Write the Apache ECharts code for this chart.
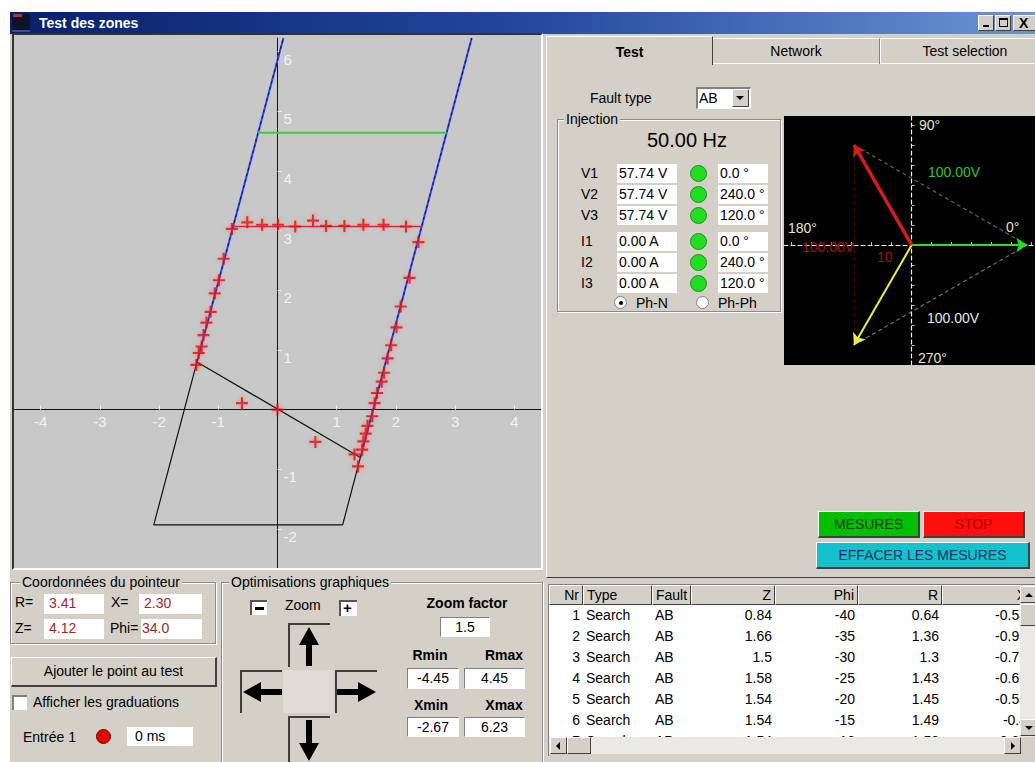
<!DOCTYPE html>
<html>
<head>
<meta charset="utf-8">
<title>Test des zones</title>
<script src="https://cdn.jsdelivr.net/npm/echarts@6.0.0/dist/echarts.min.js"></script>
<style>
html,body{margin:0;padding:0;width:1035px;height:762px;overflow:hidden;background:#fff;font-family:'Liberation Sans',Arial,sans-serif;font-size:14px;color:#000}
.a{position:absolute;box-sizing:border-box}
.t{position:absolute;white-space:nowrap;line-height:16px;font-size:14px}
.sunk{border-top:1px solid #808080;border-left:1px solid #808080;border-right:1px solid #fff;border-bottom:1px solid #fff}
.rais{border-top:1px solid #fff;border-left:1px solid #fff;border-right:1px solid #404040;border-bottom:1px solid #404040}
.grp{position:absolute;box-sizing:border-box;border:1px solid #8a8a8a;box-shadow:inset 1px 1px 0 #fff,1px 1px 0 #fff}
.gl{position:absolute;white-space:nowrap;background:#d4d0c8;padding:0 2px;line-height:16px}
.fld{position:absolute;box-sizing:border-box;background:#fff;white-space:nowrap;overflow:hidden;line-height:18px}
.cell{position:absolute;box-sizing:border-box;white-space:nowrap;overflow:hidden;padding:0 3px}
.pad{position:absolute;box-sizing:border-box;border-top:2px solid #404040;border-left:2px solid #404040;background:#d4d0c8}
</style>
</head>
<body>
<!-- window -->
<div class="a" style="left:10px;top:12px;width:1025px;height:750px;background:#d4d0c8"></div>
<div class="a" style="left:10px;top:12px;width:1025px;height:22px;background:linear-gradient(to right,#08206a 0%,#23489c 50%,#6a94d6 100%)"></div>
<div class="a" style="left:12px;top:14px;width:18px;height:18px;background:#0c1428;border-bottom:2px solid #3050a0"></div>
<div class="a" style="left:13px;top:14px;width:9px;height:3px;background:#b03040"></div>
<div class="t" style="left:39px;top:15px;color:#fff;font-weight:bold">Test des zones</div>
<div class="a rais" style="left:978px;top:15px;width:16px;height:16px;background:#d4d0c8"><div class="a" style="left:4px;top:9px;width:6px;height:2px;background:#000"></div></div>
<div class="a rais" style="left:995px;top:15px;width:16px;height:16px;background:#d4d0c8"><div class="a" style="left:3px;top:2px;width:9px;height:9px;border:1px solid #000;border-top-width:2px"></div></div>
<div class="a rais" style="left:1013px;top:15px;width:24px;height:16px;background:#d4d0c8"><div class="t" style="left:5px;top:-1px;font-weight:bold">X</div></div>

<!-- impedance plane -->
<div class="a" style="left:12px;top:33px;width:531px;height:537px;border-style:solid;border-width:2px;border-color:#333 #fff #fff #333"></div>
<div id="plot" class="a" style="left:14px;top:35px;width:527px;height:533px;background:#c8c8c8"></div>

<!-- tab control -->
<div class="a" style="left:546px;top:63px;width:489px;height:515px;border-left:1px solid #fff;border-top:1px solid #fff;border-bottom:1px solid #404040"></div>
<div class="a" style="left:712px;top:38px;width:168px;height:26px;border-top:1px solid #fff;border-left:1px solid #fff;border-right:1px solid #808080"></div>
<div class="t" style="left:712px;top:43px;width:168px;text-align:center">Network</div>
<div class="a" style="left:880px;top:38px;width:160px;height:26px;border-top:1px solid #fff;border-left:1px solid #fff"></div>
<div class="t" style="left:880px;top:43px;width:170px;text-align:center">Test selection</div>
<div class="a" style="left:546px;top:36px;width:167px;height:29px;background:#d4d0c8;border-top:1px solid #fff;border-left:1px solid #fff;border-right:1px solid #404040"></div>
<div class="t" style="left:547px;top:44px;width:165px;text-align:center;font-weight:bold">Test</div>

<div class="t" style="left:590px;top:90px">Fault type</div>
<div class="a" style="left:696px;top:87px;width:55px;height:22px;background:#fff;border-top:2px solid #808080;border-left:2px solid #808080;border-right:1px solid #fff;border-bottom:1px solid #fff"></div>
<div class="t" style="left:699px;top:90px">AB</div>
<div class="a rais" style="left:732px;top:89px;width:17px;height:18px;background:#d4d0c8"><div class="a" style="left:3px;top:6px;width:0;height:0;border-left:4px solid transparent;border-right:4px solid transparent;border-top:4px solid #000"></div></div>

<div class="grp" style="left:557px;top:119px;width:224px;height:193px"></div>
<div class="gl" style="left:564px;top:111px">Injection</div>
<div class="t" id="freq" style="left:617px;top:129px;width:140px;text-align:center;font-size:20px;line-height:22px;font-weight:500"></div>
<div id="injection"></div>
<div class="a" style="left:614px;top:296px;width:13px;height:13px;border-radius:50%;background:#fff;border:1px solid #808080"><div class="a" style="left:4px;top:4px;width:4px;height:4px;border-radius:50%;background:#000"></div></div>
<div class="t" style="left:636px;top:295px">Ph-N</div>
<div class="a" style="left:696px;top:296px;width:13px;height:13px;border-radius:50%;background:#fff;border:1px solid #808080"></div>
<div class="t" style="left:718px;top:295px">Ph-Ph</div>

<div id="phasor" class="a" style="left:784px;top:116px;width:251px;height:249px;background:#000"></div>

<div class="a rais" style="left:818px;top:511px;width:102px;height:27px;background:#00c000;border-right-width:2px;border-bottom-width:2px;color:#0a3a0a;text-align:center;line-height:24px">MESURES</div>
<div class="a rais" style="left:923px;top:511px;width:102px;height:27px;background:#ff0e0e;border-right-width:2px;border-bottom-width:2px;color:#a80000;text-align:center;line-height:24px">STOP</div>
<div class="a rais" style="left:816px;top:542px;width:214px;height:27px;background:#14c2cf;border-right-width:2px;border-bottom-width:2px;color:#16305a;text-align:center;line-height:24px">EFFACER LES MESURES</div>

<!-- measurement table -->
<div class="a" style="left:548px;top:584px;width:487px;height:172px;border-top:1px solid #808080;border-left:1px solid #808080;background:#fff;overflow:hidden" id="table"></div>

<!-- pointer coordinates -->
<div class="grp" style="left:10px;top:582px;width:206px;height:62px"></div>
<div class="gl" style="left:20px;top:574px">Coordonnées du pointeur</div>
<div class="t" style="left:15px;top:594px">R=</div>
<div class="fld" style="left:44px;top:594px;width:60px;height:20px;padding-left:5px;color:#9a2a2a" id="ptR"></div>
<div class="t" style="left:111px;top:594px">X=</div>
<div class="fld" style="left:139px;top:594px;width:63px;height:20px;padding-left:5px;color:#9a2a2a" id="ptX"></div>
<div class="t" style="left:15px;top:620px">Z=</div>
<div class="fld" style="left:44px;top:619px;width:60px;height:20px;padding-left:5px;color:#9a2a2a" id="ptZ"></div>
<div class="t" style="left:110px;top:620px">Phi=</div>
<div class="fld" style="left:141px;top:619px;width:61px;height:20px;padding-left:1px;color:#9a2a2a" id="ptPhi"></div>

<div class="a rais" style="left:11px;top:657px;width:206px;height:30px;border-right-width:2px;border-bottom-width:2px;text-align:center;line-height:27px">Ajouter le point au test</div>
<div class="a" style="left:12px;top:695px;width:15px;height:15px;background:#fff;border-top:2px solid #808080;border-left:2px solid #808080"></div>
<div class="t" style="left:33px;top:694px">Afficher les graduations</div>
<div class="t" style="left:23px;top:729px">Entrée 1</div>
<div class="a" style="left:96px;top:729px;width:15px;height:15px;border-radius:50%;background:#e80000;border:1px solid #700"></div>
<div class="fld" style="left:127px;top:727px;width:66px;height:19px;padding-left:8px">0 ms</div>

<!-- view controls -->
<div class="grp" style="left:221px;top:582px;width:322px;height:200px"></div>
<div class="gl" style="left:229px;top:574px">Optimisations graphiques</div>
<div class="a" style="left:250px;top:600px;width:17px;height:15px;background:#fff;border-top:2px solid #555;border-left:2px solid #555"><div class="a" style="left:3px;top:5px;width:9px;height:3px;background:#000"></div></div>
<div class="t" style="left:285px;top:597px">Zoom</div>
<div class="a" style="left:339px;top:600px;width:18px;height:16px;background:#fff;border-top:2px solid #555;border-left:2px solid #555"><div class="t" style="left:2px;top:-2px;font-weight:bold;font-size:15px">+</div></div>

<div class="pad" style="left:288px;top:623px;width:42px;height:44px"><svg width="40" height="42" style="position:absolute;left:0;top:0"><polygon points="19,2 29,20 22,20 22,41 16,41 16,20 9,20" fill="#000"/></svg></div>
<div class="pad" style="left:240px;top:670px;width:42px;height:43px"><svg width="40" height="41" style="position:absolute;left:0;top:0"><polygon points="1,20 19,10 19,17 40,17 40,23 19,23 19,30" fill="#000"/></svg></div>
<div class="a" style="left:283px;top:670px;width:51px;height:43px;background:#dedbd5"></div>
<div class="pad" style="left:335px;top:670px;width:42px;height:43px"><svg width="40" height="41" style="position:absolute;left:0;top:0"><polygon points="39,20 21,10 21,17 0,17 0,23 21,23 21,30" fill="#000"/></svg></div>
<div class="pad" style="left:288px;top:716px;width:42px;height:48px"><svg width="40" height="46" style="position:absolute;left:0;top:0"><polygon points="19,43 29,25 22,25 22,2 16,2 16,25 9,25" fill="#000"/></svg></div>

<div class="t" style="left:412px;top:595px;width:110px;text-align:center;font-weight:bold">Zoom factor</div>
<div class="a sunk" style="left:440px;top:617px;width:50px;height:20px;background:#fff;text-align:center;line-height:18px" id="zoomFactor"></div>
<div class="t" style="left:404px;top:647px;width:52px;text-align:center;font-weight:bold">Rmin</div>
<div class="t" style="left:478px;top:647px;width:52px;text-align:center;font-weight:bold">Rmax</div>
<div class="a sunk" style="left:407px;top:668px;width:52px;height:21px;background:#fff;text-align:center;line-height:19px" id="rMinBox"></div>
<div class="a sunk" style="left:464px;top:668px;width:61px;height:21px;background:#fff;text-align:center;line-height:19px" id="rMaxBox"></div>
<div class="t" style="left:405px;top:697px;width:52px;text-align:center;font-weight:bold">Xmin</div>
<div class="t" style="left:478px;top:697px;width:52px;text-align:center;font-weight:bold">Xmax</div>
<div class="a sunk" style="left:407px;top:717px;width:52px;height:20px;background:#fff;text-align:center;line-height:18px" id="xMinBox"></div>
<div class="a sunk" style="left:464px;top:717px;width:61px;height:20px;background:#fff;text-align:center;line-height:18px" id="xMaxBox"></div>

<script>
// ---- impedance plane (R horizontal, X vertical, ohms) ----
const rRange = [-4.45, 4.45];
const xRange = [-2.67, 6.23];
const zoomFactor = 1.5;
const rTickValues = [-4, -3, -2, -1, 1, 2, 3, 4];
const xTickValues = [-2, -1, 1, 2, 3, 4, 5, 6];

// zone characteristic
const zoneOutline = [[-1.36, 0.80], [-2.09, -1.93], [1.10, -1.93], [1.40, -0.80], [-1.36, 0.80]];
const leftReachEdge = [[-1.36, 0.80], [0.10, 6.23]];
const rightReachEdge = [[1.40, -0.80], [3.28, 6.23]];
const zone1Reach = [[-0.75, 3.07], [2.44, 3.07]];
const zone2Reach = [[-0.33, 4.64], [2.86, 4.64]];

// measurement table (first rows)
const tableNr = [1, 2, 3, 4, 5, 6, 7];
const tableType = ['Search', 'Search', 'Search', 'Search', 'Search', 'Search', 'Search'];
const tableFault = ['AB', 'AB', 'AB', 'AB', 'AB', 'AB', 'AB'];
const tableZ = [0.84, 1.66, 1.5, 1.58, 1.54, 1.54, 1.54];
const tablePhi = [-40, -35, -30, -25, -20, -15, -10];
const tableR = [0.64, 1.36, 1.3, 1.43, 1.45, 1.49, 1.52];
const tableX = [-0.54, -0.95, -0.75, -0.67, -0.53, -0.4, -0.27];

// remaining search results
const moreR = [1.60, 1.64, 1.68, 1.76, 1.80, 1.86, 1.92, 2.01, 2.08, 2.23, 2.38,
               2.17, 1.79, 1.45, 1.13, 0.82, 0.60, 0.30, 0.01, -0.26, -0.51, -0.77,
               -0.91, -0.99, -1.06, -1.13, -1.20, -1.25, -1.28, -1.33, -1.37,
               -0.60, 0.00];
const moreX = [-0.11, 0.11, 0.28, 0.47, 0.62, 0.86, 1.08, 1.38, 1.73, 2.21, 2.81,
               3.07, 3.10, 3.10, 3.08, 3.08, 3.17, 3.07, 3.10, 3.10, 3.14, 3.03,
               2.53, 2.17, 1.95, 1.64, 1.46, 1.25, 1.06, 0.95, 0.75,
               0.11, 0.00];
const searchR = tableR.concat(moreR);
const searchX = tableX.concat(moreX);

// pointer read-out
const pointer = { R: '3.41', X: '2.30', Z: '4.12', Phi: '34.0' };

// ---- injection ----
const frequency = 50;
const phaseLabels = ['V1', 'V2', 'V3'];
const voltageMag = [57.74, 57.74, 57.74];
const voltageAngle = [0, 240, 120];
const currentLabels = ['I1', 'I2', 'I3'];
const currentMag = [0, 0, 0];
const currentAngle = [0, 240, 120];
const phasorColors = ['#22e022', '#eded4a', '#d41c1c'];
const angleMarks = ['90°', '180°', '0°', '270°'];
const lineVoltageText = ['100.00V', '100.00V', '100.00V'];
const currentScaleText = '10';

const FONT = "'Liberation Sans', Arial, sans-serif";

// fill read-outs
document.getElementById('ptR').textContent = pointer.R;
document.getElementById('ptX').textContent = pointer.X;
document.getElementById('ptZ').textContent = pointer.Z;
document.getElementById('ptPhi').textContent = pointer.Phi;
document.getElementById('zoomFactor').textContent = zoomFactor.toFixed(1);
document.getElementById('rMinBox').textContent = rRange[0].toFixed(2);
document.getElementById('rMaxBox').textContent = rRange[1].toFixed(2);
document.getElementById('xMinBox').textContent = xRange[0].toFixed(2);
document.getElementById('xMaxBox').textContent = xRange[1].toFixed(2);
document.getElementById('freq').textContent = frequency.toFixed(2) + ' Hz';

// injection rows
(function () {
  const rowsY = [173, 194, 215, 241, 262, 283];
  const labels = phaseLabels.concat(currentLabels);
  const mags = voltageMag.map(v => v.toFixed(2) + ' V').concat(currentMag.map(v => v.toFixed(2) + ' A'));
  const angs = voltageAngle.concat(currentAngle).map(v => v.toFixed(1) + ' °');
  let html = '';
  labels.forEach((lab, i) => {
    const y = rowsY[i];
    html += `<div class="t" style="left:581px;top:${y - 8}px">${lab}</div>`;
    html += `<div class="fld" style="left:617px;top:${y - 9}px;width:60px;height:19px;padding-left:2px">${mags[i]}</div>`;
    html += `<div class="a" style="left:690px;top:${y - 8}px;width:17px;height:17px;border-radius:50%;background:#1ee01e;border:1px solid #2a8a2a"></div>`;
    html += `<div class="fld" style="left:718px;top:${y - 9}px;width:50px;height:19px;padding-left:2px">${angs[i]}</div>`;
  });
  document.getElementById('injection').innerHTML = html;
})();

// measurement table
(function () {
  const cols = [
    { title: 'Nr', x: 0, w: 34, align: 'right', v: tableNr },
    { title: 'Type', x: 34, w: 69, align: 'left', v: tableType },
    { title: 'Fault', x: 103, w: 39, align: 'left', v: tableFault },
    { title: 'Z', x: 142, w: 84, align: 'right', v: tableZ },
    { title: 'Phi', x: 226, w: 83, align: 'right', v: tablePhi },
    { title: 'R', x: 309, w: 84, align: 'right', v: tableR },
    { title: 'X', x: 393, w: 88, align: 'right', v: tableX }
  ];
  let html = '';
  cols.forEach(c => {
    html += `<div class="cell rais" style="left:${c.x}px;top:0;width:${c.w}px;height:20px;background:#d4d0c8;text-align:${c.align};line-height:18px">${c.title}</div>`;
    c.v.forEach((val, i) => {
      html += `<div class="cell" style="left:${c.x}px;top:${20 + i * 21}px;width:${c.w}px;height:21px;text-align:${c.align};line-height:21px">${val}</div>`;
    });
  });
  // vertical scrollbar
  html += `<div class="a" style="left:471px;top:0;width:16px;height:152px;background:#ebe9e4"></div>`;
  html += `<div class="a rais" style="left:471px;top:1px;width:16px;height:17px;background:#d4d0c8"><div class="a" style="left:4px;top:6px;border-left:4px solid transparent;border-right:4px solid transparent;border-bottom:4px solid #000"></div></div>`;
  html += `<div class="a rais" style="left:471px;top:19px;width:16px;height:22px;background:#d4d0c8"></div>`;
  html += `<div class="a rais" style="left:471px;top:134px;width:16px;height:17px;background:#d4d0c8"><div class="a" style="left:4px;top:6px;border-left:4px solid transparent;border-right:4px solid transparent;border-top:4px solid #000"></div></div>`;
  // horizontal scrollbar
  html += `<div class="a" style="left:0;top:152px;width:487px;height:20px;background:#d4d0c8"></div>`;
  html += `<div class="a" style="left:0;top:152px;width:471px;height:17px;background:#ebe9e4"></div>`;
  html += `<div class="a rais" style="left:1px;top:152px;width:17px;height:17px;background:#d4d0c8"><div class="a" style="left:5px;top:4px;border-top:4px solid transparent;border-bottom:4px solid transparent;border-right:4px solid #000"></div></div>`;
  html += `<div class="a rais" style="left:18px;top:152px;width:24px;height:17px;background:#d4d0c8"></div>`;
  html += `<div class="a rais" style="left:455px;top:152px;width:17px;height:17px;background:#d4d0c8"><div class="a" style="left:6px;top:4px;border-top:4px solid transparent;border-bottom:4px solid transparent;border-left:4px solid #000"></div></div>`;
  document.getElementById('table').innerHTML = html;
})();

// ---- impedance chart ----
const plotEl = document.getElementById('plot');
const plot = echarts.init(plotEl, null, { renderer: 'svg' });
const gridBox = { left: 0, right: 0, top: 3, bottom: -1 };
const gridW = plotEl.clientWidth - gridBox.left - gridBox.right;
const gridH = plotEl.clientHeight - gridBox.top - gridBox.bottom;
// place both axes through the origin
const xAxisOffset = -(0 - xRange[0]) / (xRange[1] - xRange[0]) * gridH;
const yAxisOffset = -(0 - rRange[0]) / (rRange[1] - rRange[0]) * gridW;
const crossSymbol = 'path://M0,4.1H10V5.9H0Z M4.1,0H5.9V10H4.1Z';
const edgeSeries = (data) => ([
  { type: 'line', data, symbol: 'none', z: 3, lineStyle: { color: '#2c46f2', width: 2 } },
  { type: 'line', data, symbol: 'none', z: 4, lineStyle: { color: '#14144a', width: 1, type: [3, 3] } }
]);
plot.setOption({
  animation: false,
  grid: Object.assign({ outerBoundsMode: 'none', containLabel: false }, gridBox),
  xAxis: {
    type: 'value', min: rRange[0], max: rRange[1], position: 'bottom', offset: xAxisOffset,
    axisLine: { onZero: false, lineStyle: { color: '#111', width: 1 } },
    axisTick: { show: true, inside: true, length: 4, customValues: rTickValues, lineStyle: { color: '#f4f4f4', width: 1 } },
    axisLabel: { customValues: rTickValues, color: '#f2f2f2', fontSize: 15, fontFamily: FONT, margin: 4 },
    splitLine: { show: false }
  },
  yAxis: {
    type: 'value', min: xRange[0], max: xRange[1], position: 'left', offset: yAxisOffset,
    axisLine: { onZero: false, lineStyle: { color: '#111', width: 1 } },
    axisTick: { show: true, inside: true, length: 4, customValues: xTickValues, lineStyle: { color: '#f4f4f4', width: 1 } },
    axisLabel: { customValues: xTickValues, inside: true, color: '#f2f2f2', fontSize: 15, fontFamily: FONT, margin: 6, verticalAlign: 'top' },
    splitLine: { show: false }
  },
  series: [
    { type: 'line', data: zoneOutline, symbol: 'none', z: 2, lineStyle: { color: '#111', width: 1.2 } },
    ...edgeSeries(leftReachEdge),
    ...edgeSeries(rightReachEdge),
    { type: 'line', data: zone2Reach, symbol: 'none', z: 5, lineStyle: { color: '#3ccf3c', width: 2 } },
    { type: 'line', data: zone1Reach, symbol: 'none', z: 5, lineStyle: { color: '#e22626', width: 1.5 } },
    {
      type: 'scatter', z: 6,
      data: searchR.map((r, i) => [r, searchX[i]]),
      symbol: crossSymbol, symbolSize: 12,
      itemStyle: { color: '#e00c0c', shadowBlur: 4, shadowColor: 'rgba(255,70,70,0.55)' }
    }
  ]
});

// ---- phasor diagram ----
const phasorChart = echarts.init(document.getElementById('phasor'), null, { renderer: 'svg' });
const deg = Math.PI / 180;
const tips = voltageMag.map((m, i) => [m * Math.cos(voltageAngle[i] * deg), m * Math.sin(voltageAngle[i] * deg)]);
const phasorTicks = [-60, -50, -40, -30, -20, -10, 10, 20, 30, 40, 50, 60];
const phasorAxis = (min, max) => ({
  type: 'value', min, max,
  axisLine: { onZero: true, lineStyle: { color: '#f0f0f0', width: 1.2, type: [4, 3] } },
  axisTick: { show: true, inside: true, length: 3, customValues: phasorTicks, lineStyle: { color: '#bbb' } },
  axisLabel: { show: false },
  splitLine: { show: false }
});
const markText = (text, x, y, fill) => ({
  type: 'text', x, y, z: 100,
  style: { text, fill, font: '14px ' + FONT, verticalAlign: 'middle' }
});
phasorChart.setOption({
  animation: false,
  backgroundColor: '#000',
  grid: { left: 0, right: 0, top: 0, bottom: 0, outerBoundsMode: 'none' },
  xAxis: phasorAxis(-63.85, 61.65),
  yAxis: phasorAxis(-60, 64.5),
  series: [
    {
      type: 'lines', coordinateSystem: 'cartesian2d', z: 3,
      data: [
        { coords: [tips[2], tips[0]], lineStyle: { color: '#c4c4c4', width: 1.2, type: [4, 3] } },
        { coords: [tips[1], tips[0]], lineStyle: { color: '#e6e6e6', width: 1.2, type: [4, 3] } },
        { coords: [tips[2], tips[1]], lineStyle: { color: '#8c0a0a', width: 1.2, type: [4, 3] } }
      ]
    },
    {
      type: 'lines', coordinateSystem: 'cartesian2d', z: 5,
      symbol: ['none', 'arrow'], symbolSize: 11,
      data: tips.map((p, i) => ({
        coords: [[0, 0], p],
        lineStyle: { color: phasorColors[i], width: i === 2 ? 3.5 : 2, opacity: 1 }
      }))
    }
  ],
  graphic: [
    markText(angleMarks[0], 135, 9, '#e4e4c8'),
    markText(angleMarks[1], 4, 112, '#e4e4c8'),
    markText(angleMarks[2], 222, 111, '#e4e4c8'),
    markText(angleMarks[3], 134, 242, '#e4e4c8'),
    markText(lineVoltageText[0], 144, 56, '#36c236'),
    markText(lineVoltageText[1], 143, 202, '#e8e8e8'),
    markText(lineVoltageText[2], 18, 131, '#a01212'),
    markText(currentScaleText, 93, 141, '#a01212')
  ]
});
</script>
</body>
</html>
